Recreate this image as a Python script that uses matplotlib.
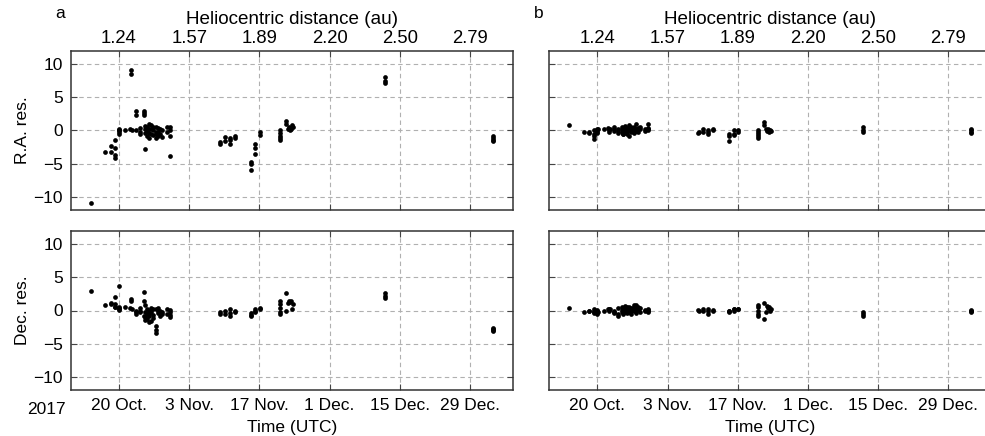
import matplotlib
matplotlib.use("Agg")
import matplotlib.pyplot as plt
import matplotlib.dates as mdates
import numpy as np
from datetime import datetime

# observation epochs, days after 2017 Oct 20.0
obs_day = [-5.6, -2.7, -1.6, -1.6, -0.7, -0.7, -0.7, -0.7, 0.0, 0.0, 0.0, 0.0, 0.1,
           1.3, 2.2, 2.3, 2.3, 2.6, 3.3, 3.3, 3.3, 4.2, 4.2, 4.2, 5.0, 5.0, 5.0,
           5.2, 5.2, 5.2, 5.2, 5.6, 5.6, 5.6, 6.0, 6.0, 6.0, 6.0, 6.4, 6.4, 6.4,
           6.8, 6.8, 6.8, 7.3, 7.3, 7.3, 7.3, 7.7, 7.7, 7.7, 8.2, 8.2, 8.6, 8.6,
           9.6, 9.6, 10.2, 10.2, 10.2, 10.2,
           20.1, 20.2, 21.1, 21.1, 22.1, 22.1, 22.1, 23.1, 23.1,
           26.3, 26.3, 26.3, 27.2, 27.2, 27.2, 28.1, 28.1,
           32.0, 32.0, 32.0, 32.0, 32.0, 33.3, 33.3, 33.6, 33.8, 34.0, 34.2, 34.4, 34.6,
           53.0, 53.0, 53.0,
           74.5, 74.5, 74.5, 74.5]

# panel a: gravity-only fit residuals (arcsec)
ra_res_a = [-11.0, -3.3, -2.3, -3.3, -1.5, -2.6, -3.7, -4.1, 0.3, 0.0, -0.3, -0.6, 0.1,
            0.1, 0.3, 9.1, 8.6, 0.1, 2.9, 2.3, 0.0, 0.4, -0.2, -0.6, 2.9, 2.6, 2.3,
            -2.8, 0.7, 0.2, -0.4, 0.5, -0.1, -0.9, 1.0, 0.3, -0.4, -1.2, 0.8, 0.2, -0.5,
            0.6, 0.0, -0.7, 0.5, -0.2, -1.1, -0.6, 0.4, -0.3, -0.9, 0.2, -0.6, 0.1, -1.0,
            0.5, -0.2, 0.6, 0.0, -0.9, -3.9,
            -2.0, -1.8, -1.0, -1.6, -1.1, -1.5, -2.0, -0.8, -1.1,
            -4.7, -5.1, -6.0, -2.0, -2.7, -3.5, -0.2, -0.7,
            0.0, -0.4, -0.8, -1.2, -1.5, 1.4, 1.0, 0.2, 0.5, 0.0, 0.3, 0.8, 0.5,
            8.0, 7.5, 7.1,
            -0.8, -1.1, -1.4, -1.6]
dec_res_a = [3.0, 0.8, 1.2, 1.0, 2.0, 1.0, 0.6, 0.5, 3.7, 0.6, 0.3, 0.1, 0.4,
             0.5, 0.4, 1.8, 1.4, 0.3, 0.0, -0.3, -0.5, 0.4, 0.0, -0.3, 2.8, 1.5, -0.8,
             -1.5, 0.8, -0.3, -1.0, 0.2, -0.6, -1.3, 0.0, -0.5, -1.8, -0.9, 0.4, -0.2, -1.6,
             0.3, -0.7, -1.2, 0.2, -2.3, -2.9, -3.4, 0.4, -0.4, -0.1, 0.0, -0.8, -0.3, -0.6,
             0.2, -0.6, 0.1, -0.3, -0.7, -1.0,
             -0.2, -0.6, 0.0, -0.5, 0.2, -0.4, -0.9, 0.0, -0.3,
             -0.4, -0.9, -0.7, 0.0, -0.3, 0.2, 0.4, 0.3,
             1.4, 1.0, 0.4, -0.2, -0.5, 2.6, 0.0, 1.2, 1.5, 1.3, 1.5, 0.2, 1.0,
             2.6, 2.2, 1.9,
             -2.6, -2.8, -2.9, -3.1]

# panel b: fit with non-gravitational acceleration
ra_res_b = [0.8, -0.2, -0.3, -0.4, 0.1, -0.5, -0.9, -1.3, 0.3, -0.2, 0.0, -0.4, 0.2,
            0.2, 0.4, 0.0, -0.3, 0.3, -0.1, 0.6, 0.2, -0.1, 0.3, -0.4, 0.6, 0.2, -0.3,
            -0.6, 0.1, -0.2, -0.5, 0.7, -0.1, 0.3, 0.4, -0.3, 0.1, -0.6, 0.9, 0.0, -0.8,
            0.5, -0.2, 0.2, 0.3, -0.4, 0.6, 0.1, 1.0, -0.1, 0.3, 0.4, -0.3, 0.2, 0.5,
            0.2, -0.1, 1.0, 0.4, 0.3, 0.1,
            -0.4, -0.2, 0.2, -0.2, 0.1, -0.3, -0.6, 0.3, 0.1,
            -1.6, -0.6, -0.8, 0.1, -0.5, -0.7, 0.1, -0.2,
            0.1, -0.3, -0.6, -0.9, -1.2, 1.3, 0.8, 0.3, -0.1, 0.2, -0.3, 0.1, -0.1,
            0.6, 0.0, -0.3,
            0.2, 0.0, -0.2, -0.4]
dec_res_b = [0.4, -0.3, -0.1, 0.0, 0.2, -0.2, -0.4, 0.0, 0.1, -0.5, -0.2, 0.0, -0.3,
             -0.1, 0.3, 0.0, 0.2, 0.3, -0.4, -0.2, 0.0, 0.4, -0.8, -0.5, 0.1, 0.5, -0.3,
             0.2, -0.6, 0.3, -0.1, 0.7, -0.2, 0.1, 0.4, 0.6, -0.4, 0.1, 0.3, -0.3, 0.5,
             0.0, 0.4, -0.6, 0.8, 0.2, -0.1, 0.5, 0.9, -0.4, 0.3, 0.1, 0.6, -0.2, 0.4,
             0.1, -0.1, 0.2, 0.0, -0.2, 0.1,
             0.1, -0.1, 0.2, -0.1, 0.2, -0.5, 0.0, 0.1, -0.1,
             0.0, -0.3, -0.1, 0.2, 0.0, 0.3, 0.3, 0.2,
             0.9, 0.5, 0.0, -0.5, -0.9, 1.2, -1.3, -0.3, 0.7, 0.4, 0.6, -0.1, 0.3,
             -0.3, -0.6, -0.9,
             0.1, -0.1, -0.2, 0.0]

tick_dates = ["2017-10-20", "2017-11-03", "2017-11-17", "2017-12-01", "2017-12-15", "2017-12-29"]
date_labels = ["20 Oct.", "3 Nov.", "17 Nov.", "1 Dec.", "15 Dec.", "29 Dec."]
dist_labels = ["1.24", "1.57", "1.89", "2.20", "2.50", "2.79"]
y_ticks = [-10, -5, 0, 5, 10]

plt.rcParams['font.family'] = ['Liberation Sans', 'DejaVu Sans']
plt.rcParams['font.size'] = 12.5

base = mdates.date2num(datetime(2017, 10, 20))
x = base + np.array(obs_day)
xt = [mdates.date2num(datetime.strptime(d, "%Y-%m-%d")) for d in tick_dates]
xlim = (base - 9.56, base + 78.44)

fig = plt.figure(figsize=(9.85, 4.36), dpi=100)
W, H = 985.0, 436.0
lefts = [71 / W, 549.3 / W]
width = 441.5 / W
tops = [(H - 210) / H, (H - 390) / H]
height = 159 / H

panels = [[ra_res_a, dec_res_a], [ra_res_b, dec_res_b]]
for col in range(2):
	for row in range(2):
		ax = fig.add_axes([lefts[col], tops[row], width, height])
		ax.plot(x, panels[col][row], 'o', color='black', ms=3.4, mec='none')
		ax.set_xlim(*xlim)
		ax.set_ylim(-12, 12)
		ax.set_xticks(xt)
		ax.set_yticks(y_ticks)
		ax.grid(True, ls=(0, (4, 3)), color='#b0b0b0', lw=0.8)
		ax.tick_params(direction='in', length=4, width=0.8, top=True, right=True,
		               color='#444444', pad=6)
		for s in ax.spines.values():
			s.set_linewidth(1.1)
			s.set_color('#333333')
		if row == 0:
			ax.set_xticklabels([])
			sec = ax.secondary_xaxis('top')
			sec.set_xticks(xt, labels=dist_labels)
			sec.tick_params(direction='in', length=0, pad=3, labelsize=13.3)
			sec.spines['top'].set_visible(False)
			sec.set_xlabel("Heliocentric distance (au)", labelpad=4, fontsize=13.6)
		else:
			ax.set_xticklabels(date_labels)
			ax.set_xlabel("Time (UTC)", labelpad=5)
		if col == 0:
			ax.set_ylabel("R.A. res." if row == 0 else "Dec. res.", labelpad=2)
		else:
			ax.set_yticklabels([])

fig.text(46 / W, 1 - 409 / H, "2017", ha='center', va='center')
fig.text(60 / W, 1 - 14 / H, "a", ha='center', va='center')
fig.text(539 / W, 1 - 14 / H, "b", ha='center', va='center')

fig.savefig("out.png", dpi=100)
